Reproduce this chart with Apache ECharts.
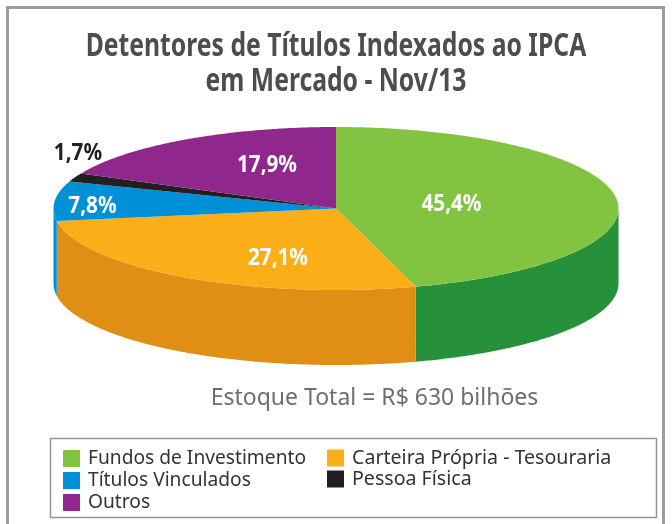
<!DOCTYPE html>
<html><head><meta charset="utf-8">
<style>html,body{margin:0;padding:0;background:#fff}#c{width:672px;height:524px}</style>
<script src="https://cdn.jsdelivr.net/npm/echarts@6/dist/echarts.min.js"></script>
</head><body><div id="c"></div>
<script>
const categories = ['Fundos de Investimento','Carteira Própria - Tesouraria','Títulos Vinculados','Pessoa Física','Outros'];
const shares = [45.4, 27.1, 7.8, 1.7, 17.9];
const shareLabels = ['45,4%','27,1%','7,8%','1,7%','17,9%'];
const topColors = ['#82c341','#fbae17','#0090d7','#231f20','#8f278d'];
const sideColors = ['#27903a','#e08e14','#0090d7','#231f20','#8f278d'];
const labelColors = ['#fff','#fff','#fff','#231f20','#fff'];
const titleText = 'Detentores de Títulos Indexados ao IPCA\nem Mercado - Nov/13';
const noteText = 'Estoque Total = R$ 630 bilhões';

// layout of the tilted pie
const CX = 336, CY = 208.5, RX = 282.5, RY = 81.5, DEPTH = 75;
const labelAnchors = [[451.5,204],[278,258],[92.5,206],[78,153],[267,165]];
const total = shares.reduce((a,b)=>a+b,0);
const starts = shares.map((_,i)=>shares.slice(0,i).reduce((a,b)=>a+b,0));
const pt = (deg,dy) => { const r = deg*Math.PI/180; return [CX+RX*Math.sin(r), CY-RY*Math.cos(r)+(dy||0)]; };
function arc(a0,a1,dy){ const n=Math.max(2,Math.ceil(Math.abs(a1-a0)*2)); const out=[]; for(let k=0;k<=n;k++) out.push(pt(a0+(a1-a0)*k/n,dy)); return out; }

function makeRender(i){
  return function(params, api){
    const v = api.value(0), s = api.value(1);
    const a0 = s/total*360, a1 = (s+v)/total*360;
    const children = [];
    const f0 = Math.max(a0,90), f1 = Math.min(a1,270);
    if (f1 > f0) {
      children.push({type:'polygon', shape:{points: arc(f0,f1,0).concat(arc(f1,f0,DEPTH))}, style:{fill:sideColors[i]}});
    }
    children.push({type:'polygon', shape:{points:[[CX,CY]].concat(arc(a0,a1,0))}, style:{fill:topColors[i]}});
    children.push({type:'text', z2:10, x:labelAnchors[i][0], y:labelAnchors[i][1], scaleX:0.9,
      style:{x:0, y:0, text:shareLabels[i], fill:labelColors[i],
      font:'bold 23px "Noto Sans",sans-serif', align:'center', verticalAlign:'middle'}});
    return {type:'group', children};
  };
}
const series = categories.map((name,i)=>({
  type:'custom', name, coordinateSystem:'none', silent:true, animation:false,
  data:[[shares[i], starts[i]]], renderItem:makeRender(i), itemStyle:{color:topColors[i]}
}));
const legendBase = {orient:'vertical', selectedMode:false, icon:'rect', padding:0, itemWidth:17, itemHeight:17, itemGap:3,
  textStyle:{fontFamily:'"Noto Sans"', fontSize:19.2, color:'#333', padding:[0,0,0,3]}};
const legendCol2 = Object.assign({}, legendBase, {textStyle:Object.assign({}, legendBase.textStyle, {fontSize:19.6}), itemGap:1});
const chart = echarts.init(document.getElementById('c'), null, {renderer:'canvas'});
chart.setOption({
  animation:false, backgroundColor:'#fff',
  legend:[
    Object.assign({left:63, top:449, data:[categories[0],categories[2],categories[4]]}, legendBase),
    Object.assign({left:327, top:448, data:[categories[1],categories[3]]}, legendCol2)
  ],
  graphic:[
    {type:'rect', silent:true, z:-1, shape:{x:7.5,y:7.5,width:656,height:530}, style:{fill:'none',stroke:'#9a9c9f',lineWidth:3}},
    {type:'rect', silent:true, z:-1, shape:{x:50.5,y:438.5,width:606,height:79}, style:{fill:'#fff',stroke:'#939598',lineWidth:1.5}},
    {type:'text', silent:true, x:336, y:29, scaleX:0.772, style:{x:0,y:0,text:titleText, fill:'#4d4d4f', align:'center', verticalAlign:'top',
      fontFamily:'"Noto Sans"', fontWeight:'bold', fontSize:32, lineHeight:35.5}},
    {type:'text', silent:true, x:374.5, y:398, style:{x:0,y:0,text:noteText, fill:'#6d6e71', align:'center', verticalAlign:'middle',
      fontFamily:'"Noto Sans"', fontSize:23}}
  ],
  series
});
</script></body></html>
